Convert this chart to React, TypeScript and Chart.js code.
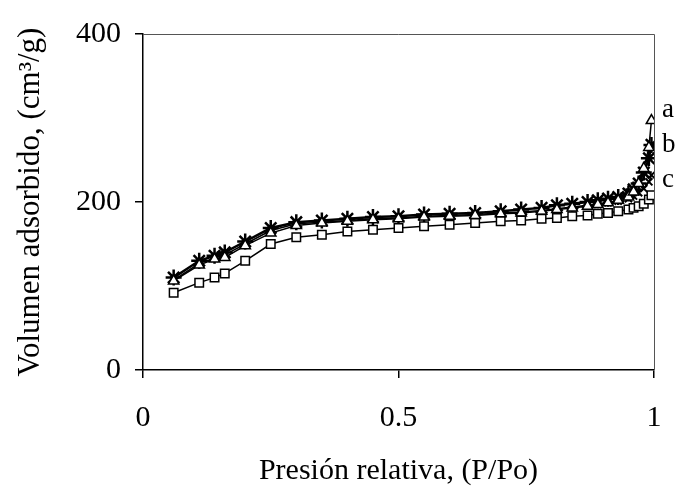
import React, { useEffect, useRef } from "react";
import { Chart, registerables } from "chart.js";

Chart.register(...registerables);

const pressure = [0.06, 0.11, 0.14, 0.16, 0.2, 0.25, 0.3, 0.35, 0.4, 0.45, 0.5, 0.55, 0.6, 0.65, 0.7, 0.74, 0.78, 0.81, 0.84, 0.87, 0.89, 0.91, 0.93, 0.95, 0.96, 0.97, 0.98, 0.99, 0.995];
const seriesA = [106, 125, 132, 134, 148, 163, 172, 175, 177, 179, 180, 182, 183, 184, 186, 187, 189, 191, 193, 195, 197, 199, 202, 206, 212, 222, 240, 265, 297];
const seriesB = [110, 130, 136, 140, 153, 169, 176, 178, 180, 182, 183, 185, 186, 187, 189, 191, 193, 196, 198, 200, 202, 204, 206, 210, 215, 222, 235, 252, 268];
const seriesC = [107, 127, 133, 137, 150, 166, 174, 176, 178, 180, 181, 183, 184, 185, 187, 188, 190, 192, 194, 196, 197, 199, 201, 204, 207, 211, 216, 224, 232];
const seriesD = [92, 104, 110, 115, 130, 150, 158, 161, 165, 167, 169, 171, 173, 175, 177, 178, 180, 181, 183, 184, 186, 187, 189, 191, 193, 195, 198, 203, 208];
const curveLabels = ["a", "b", "c"];
const labelValues = [310, 268, 226];
const xTicks = [0, 0.5, 1];
const xTickLabels = ["0", "0.5", "1"];
const yTicks = [0, 200, 400];

const FONT = "'Liberation Serif', 'DejaVu Serif', serif";

export default function App() {
  const ref = useRef<HTMLCanvasElement | null>(null);
  useEffect(() => {
    if (!ref.current) return;
    const mk = (vals: number[]) => vals.map((v, i) => ({ x: pressure[i], y: v }));
    const frame = {
      id: "frame",
      afterDraw(chart: any) {
        const { ctx, chartArea } = chart;
        ctx.save();
        ctx.strokeStyle = "#555";
        ctx.lineWidth = 1;
        ctx.beginPath();
        ctx.moveTo(chartArea.left, chartArea.top + 0.5);
        ctx.lineTo(chartArea.right + 0.5, chartArea.top + 0.5);
        ctx.lineTo(chartArea.right + 0.5, chartArea.bottom);
        ctx.stroke();
        ctx.fillStyle = "#000";
        ctx.font = `27px ${FONT}`;
        ctx.textAlign = "left";
        ctx.textBaseline = "middle";
        const ys = chart.scales.y;
        curveLabels.forEach((t, i) => {
          ctx.fillText(t, chartArea.right + 8, ys.getPixelForValue(labelValues[i]));
        });
        ctx.restore();
      },
    };
    const chart = new Chart(ref.current, {
      type: "line",
      data: {
        datasets: [
          {
            label: "d",
            data: mk(seriesD),
            borderColor: "#000",
            borderWidth: 1.5,
            pointStyle: "rect",
            pointRadius: 6,
            pointBorderWidth: 1.5,
            pointBackgroundColor: "#fff",
            pointBorderColor: "#000",
          },
          {
            label: "a",
            data: mk(seriesA),
            borderColor: "#000",
            borderWidth: 1.5,
            pointStyle: "triangle",
            pointRadius: 6,
            pointBorderWidth: 1.5,
            pointBackgroundColor: "#fff",
            pointBorderColor: "#000",
          },
          {
            label: "c",
            data: mk(seriesC),
            borderColor: "#000",
            borderWidth: 1.5,
            pointStyle: "crossRot",
            pointRadius: 5,
            pointBorderWidth: 2,
            pointBorderColor: "#000",
          },
          {
            label: "b",
            data: mk(seriesB),
            borderColor: "#000",
            borderWidth: 2.5,
            pointStyle: "star",
            pointRadius: 8,
            pointBorderWidth: 2.5,
            pointBorderColor: "#000",
          },
        ],
      },
      options: {
        animation: false,
        responsive: true,
        maintainAspectRatio: false,
        layout: { padding: { top: 34, right: 21, left: 0, bottom: 0 } },
        plugins: { legend: { display: false }, tooltip: { enabled: false } },
        scales: {
          x: {
            type: "linear",
            min: 0,
            max: 1,
            afterBuildTicks: (s: any) => {
              s.ticks = xTicks.map((v) => ({ value: v }));
            },
            afterFit: (s: any) => {
              s.height = 123;
              s.paddingRight = 0;
              s.paddingLeft = 0;
            },
            border: { display: true, color: "#000", width: 1.5 },
            grid: { display: true, drawOnChartArea: false, drawTicks: true, tickLength: 8, color: "#000", lineWidth: 1.5 },
            ticks: {
              color: "#000",
              font: { family: FONT, size: 30 },
              padding: 22,
              maxRotation: 0,
              callback: (_v: any, i: number) => xTickLabels[i],
            },
            title: { display: true, text: "Presión relativa, (P/Po)", color: "#000", font: { family: FONT, size: 30 }, padding: { top: 8 } },
          },
          y: {
            type: "linear",
            min: 0,
            max: 400,
            afterBuildTicks: (s: any) => {
              s.ticks = yTicks.map((v) => ({ value: v }));
            },
            afterFit: (s: any) => {
              s.width = 143;
            },
            border: { display: true, color: "#000", width: 1.5 },
            grid: { display: true, drawOnChartArea: false, drawTicks: true, tickLength: 8, color: "#000", lineWidth: 1.5 },
            ticks: { color: "#000", font: { family: FONT, size: 30 }, padding: 14 },
            title: { display: true, text: "Volumen adsorbido, (cm³/g)", color: "#000", font: { family: FONT, size: 31 }, padding: { top: 12, bottom: 0 } },
          },
        },
      },
      plugins: [frame],
    } as any);
    return () => chart.destroy();
  }, []);
  return (
    <div style={{ position: "fixed", left: 0, top: 0, width: 675, height: 493, background: "#fff" }}>
      <canvas ref={ref} />
    </div>
  );
}
